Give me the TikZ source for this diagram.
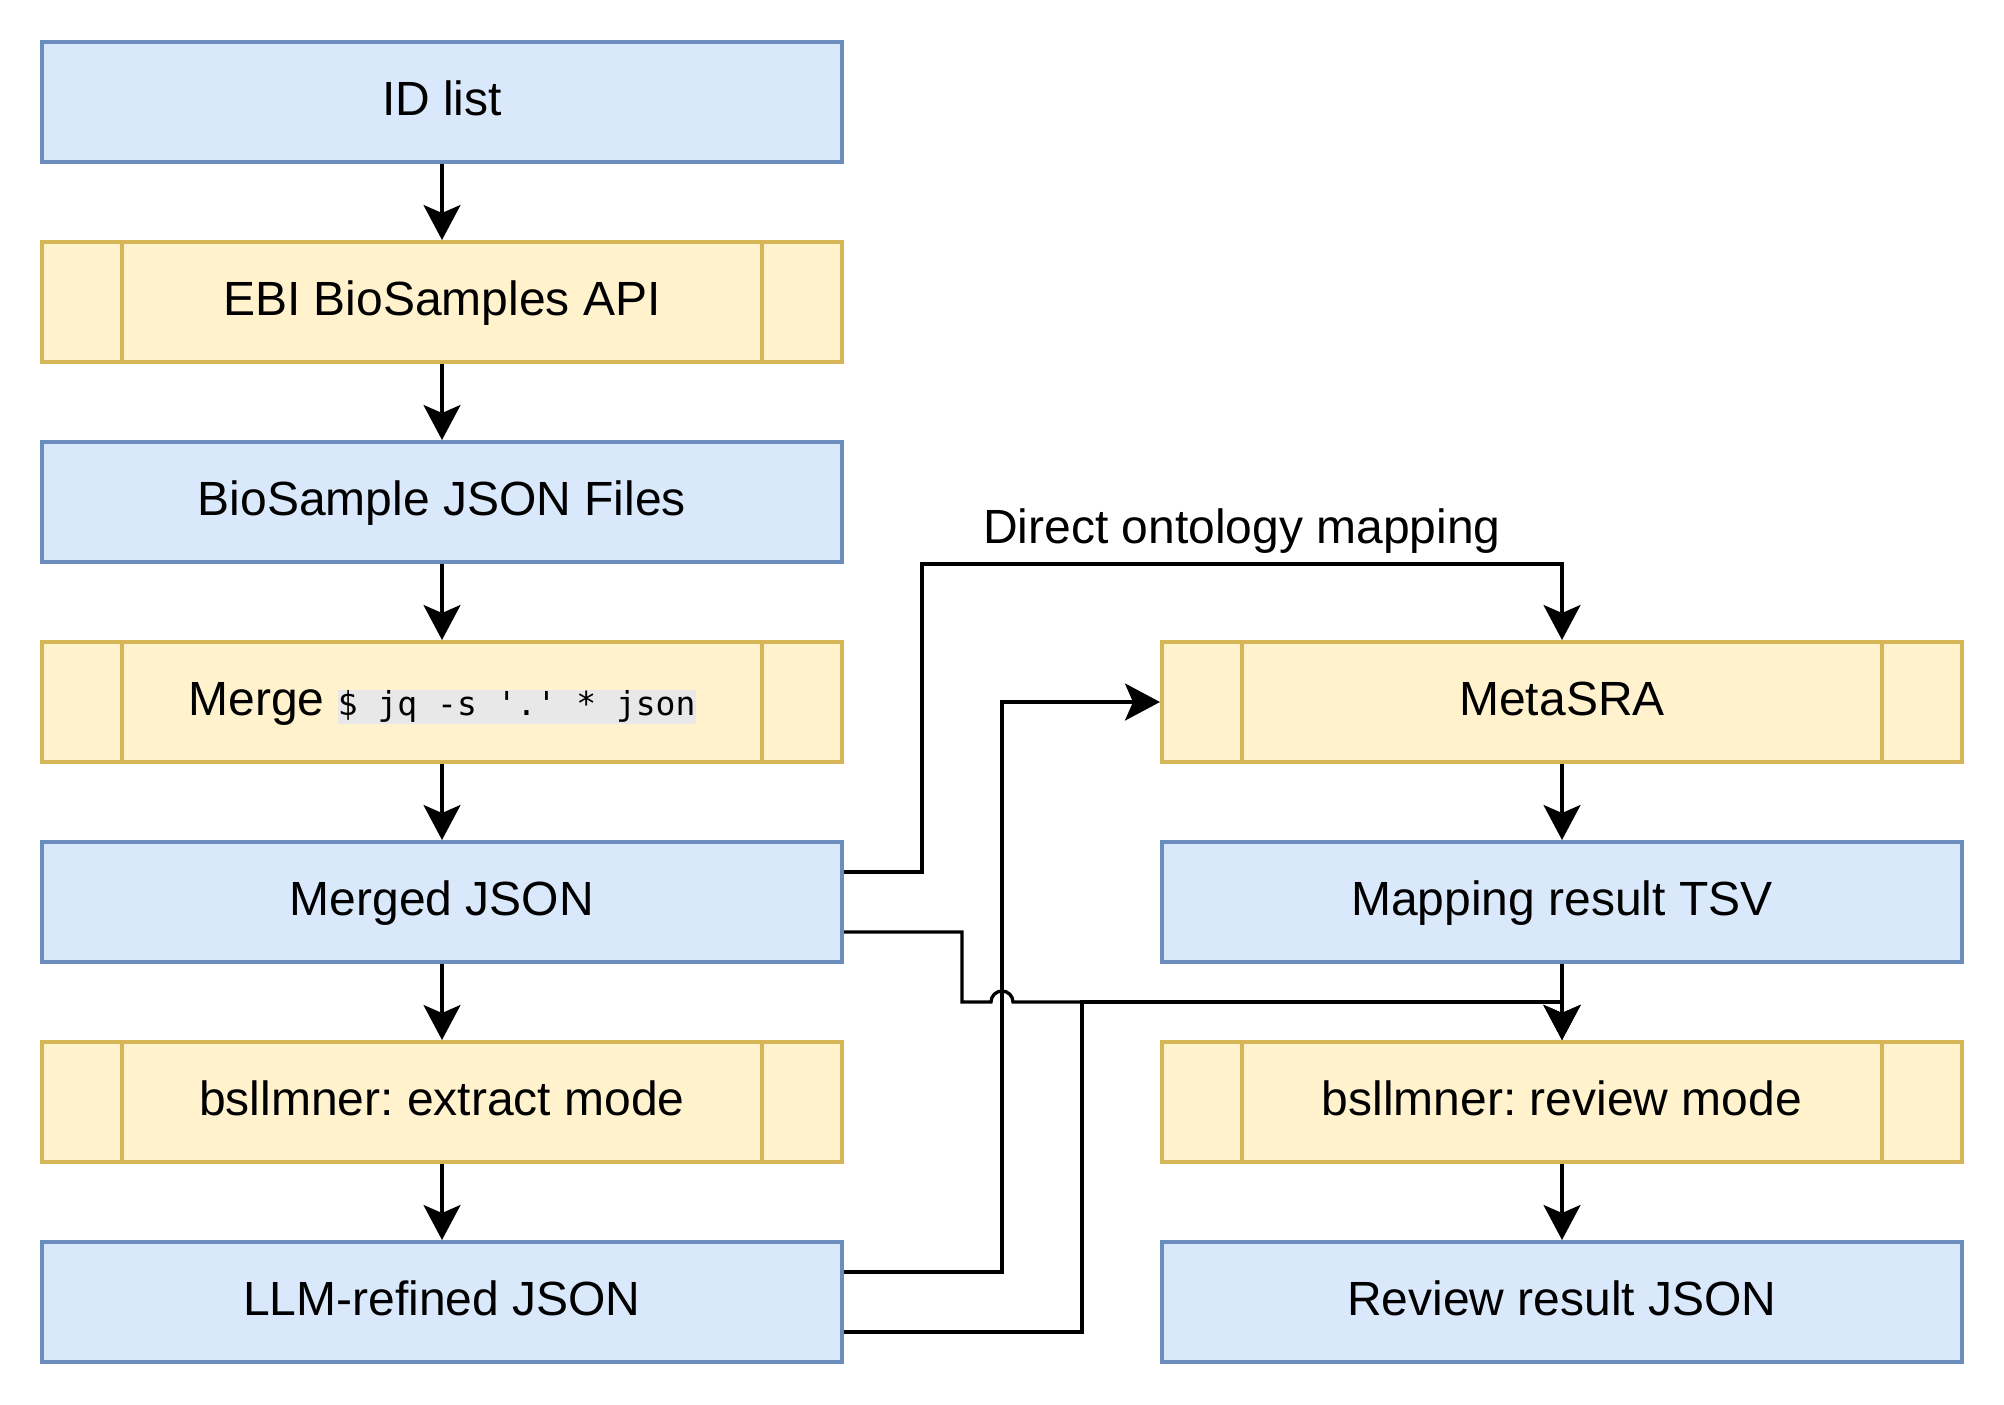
\documentclass[tikz,border=0pt]{standalone}
\usepackage{fontspec}
\setmainfont{Liberation Sans}
\setmonofont{DejaVu Sans Mono}
\usetikzlibrary{arrows.meta}
\definecolor{bfill}{HTML}{DAE8FC}
\definecolor{bdraw}{HTML}{6C8EBF}
\definecolor{yfill}{HTML}{FFF2CC}
\definecolor{ydraw}{HTML}{D6B656}
\definecolor{codegray}{RGB}{232,232,232}
\frenchspacing
\newcommand{\codebx}[1]{{\setlength{\fboxsep}{0pt}\colorbox{codegray}{\ttfamily\fontsize{16.5pt}{16.5pt}\selectfont\rule[-4pt]{0pt}{15.5pt}#1}}}
\begin{document}
\begin{tikzpicture}[x=0.5pt,y=-0.5pt,
  box/.style={minimum width=400pt, minimum height=60pt, line width=2pt, inner sep=0pt,
    text height=17.5pt, text depth=4pt, font=\fontsize{24pt}{28.8pt}\selectfont},
  data/.style={box, draw=bdraw, fill=bfill},
  proc/.style={box, draw=ydraw, fill=yfill,
    path picture={\draw[ydraw, line width=2pt]
      ([xshift=40pt]path picture bounding box.north west) -- ([xshift=40pt]path picture bounding box.south west)
      ([xshift=-40pt]path picture bounding box.north east) -- ([xshift=-40pt]path picture bounding box.south east);}},
  conn/.style={line width=1.65pt, -{Stealth[length=17.5pt,width=18.5pt,inset=4pt]}},
  lbl/.style={anchor=base, yshift=10.5pt, inner sep=0pt, font=\fontsize{24pt}{28.8pt}\selectfont}]
\useasboundingbox (0,0) rectangle (2004,1404);

\node[data] (id)      at (442,102)  {ID list};
\node[proc] (ebi)     at (442,302)  {EBI BioSamples API};
\node[data] (bsjson)  at (442,502)  {BioSample JSON Files};
\node[proc] (merge)   at (442,702)  {Merge \codebx{\$ jq -s '.' * json}};
\node[data] (merged)  at (442,902)  {Merged JSON};
\node[proc] (extract) at (442,1102) {bsllmner: extract mode};
\node[data] (llm)     at (442,1302) {LLM-refined JSON};

\node[proc] (metasra) at (1562,702)  {MetaSRA};
\node[data] (tsv)     at (1562,902)  {Mapping result TSV};
\node[proc] (review)  at (1562,1102) {bsllmner: review mode};
\node[data] (result)  at (1562,1302) {Review result JSON};

\draw[conn] (id) -- (ebi);
\draw[conn] (ebi) -- (bsjson);
\draw[conn] (bsjson) -- (merge);
\draw[conn] (merge) -- (merged);
\draw[conn] (merged) -- (extract);
\draw[conn] (extract) -- (llm);
\draw[conn] (metasra) -- (tsv);
\draw[conn] (tsv) -- (review);
\draw[conn] (review) -- (result);

\draw[conn] ([yshift=15pt]merged.east) -- (922,872) -- (922,564)
  -- node[lbl] {Direct ontology mapping} (1562,564) -- (metasra.north);
\draw[conn] ([yshift=15pt]llm.east) -- (1002,1272) -- (1002,702) -- (metasra.west);
\draw[conn] ([yshift=-15pt]merged.east) -- (962,932) -- (962,1002) -- (991,1002)
  arc[start angle=180, end angle=0, radius=5.5pt] -- (1562,1002) -- (review.north);
\draw[conn] ([yshift=-15pt]llm.east) -- (1082,1332) -- (1082,1002) -- (1562,1002) -- (review.north);
\end{tikzpicture}
\end{document}
